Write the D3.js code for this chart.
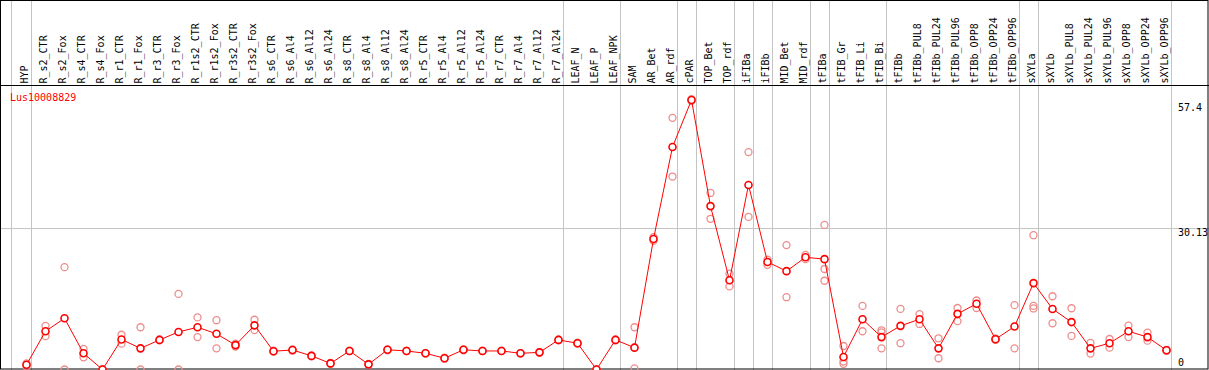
<!DOCTYPE html>
<html>
<head>
<meta charset="utf-8">
<script src="https://cdn.jsdelivr.net/npm/d3@7"></script>
<style>
  html, body { margin: 0; padding: 0; background: #fff; }
  svg { display: block; }
  text { font-family: "DejaVu Sans Mono", "Liberation Mono", monospace; font-size: 10px; }
</style>
</head>
<body>
<div id="chart"></div>
<script>
// 样本名（列）
const categories = [
  'HYP', 'R_s2_CTR', 'R_s2_Fox', 'R_s4_CTR', 'R_s4_Fox', 'R_r1_CTR', 'R_r1_Fox', 'R_r3_CTR', 'R_r3_Fox',
  'R_r1s2_CTR', 'R_r1s2_Fox', 'R_r3s2_CTR', 'R_r3s2_Fox', 'R_s6_CTR', 'R_s6_Al4', 'R_s6_Al12', 'R_s6_Al24',
  'R_s8_CTR', 'R_s8_Al4', 'R_s8_Al12', 'R_s8_Al24', 'R_r5_CTR', 'R_r5_Al4', 'R_r5_Al12', 'R_r5_Al24',
  'R_r7_CTR', 'R_r7_Al4', 'R_r7_Al12', 'R_r7_Al24', 'LEAF_N', 'LEAF_P', 'LEAF_NPK', 'SAM', 'AR_Bet', 'AR_rdf',
  'cPAR', 'TOP_Bet', 'TOP_rdf', 'iFIBa', 'iFIBb', 'MID_Bet', 'MID_rdf', 'tFIBa', 'tFIB_Gr', 'tFIB_Li', 'tFIB_Bi',
  'tFIBb', 'tFIBb_PUL8', 'tFIBb_PUL24', 'tFIBb_PUL96', 'tFIBb_OPP8', 'tFIBb_OPP24', 'tFIBb_OPP96',
  'sXYLa', 'sXYLb', 'sXYLb_PUL8', 'sXYLb_PUL24', 'sXYLb_PUL96', 'sXYLb_OPP8', 'sXYLb_OPP24', 'sXYLb_OPP96'
];

// 分组分隔线：画在这些列之后
const groupEnds = ['HYP', 'R_r7_Al24', 'LEAF_NPK', 'AR_rdf', 'cPAR', 'TOP_rdf', 'iFIBa', 'iFIBb',
  'MID_rdf', 'tFIBa', 'tFIB_Bi', 'tFIBb_OPP96', 'sXYLa', 'sXYLb_OPP96'];

const geneName = 'Lus10008829';

// 均值
const means = [
  1.0, 8.15, 10.9, 3.45, 0, 6.4, 4.5, 6.3, 8.0,
  9.0, 7.6, 5.2, 9.4, 3.9, 4.15, 2.9, 1.3,
  3.95, 1.1, 4.2, 3.95, 3.45, 2.4, 4.2, 3.95,
  3.95, 3.45, 3.65, 6.3, 5.6, 0, 6.3, 4.65, 27.8, 47.4,
  57.4, 34.8, 19.0, 39.3, 22.9, 20.95, 23.9, 23.5, 2.67, 10.7, 6.9,
  9.3, 10.7, 4.5, 11.85, 14.0, 6.45, 9.15,
  18.4, 12.9, 10.1, 4.5, 5.6, 8.15, 6.9, 4.1
];

// 重复样本
const repA = [
  1.3, 9.3, 21.8, 4.4, 0, 7.4, 9.0, 6.4, 16.1,
  11.1, 10.5, 5.5, 10.6, 4.0, 4.3, 3.0, 1.4,
  4.0, 1.2, 4.3, 4.0, 3.5, 2.5, 4.3, 4.0,
  4.0, 3.5, 3.7, 6.4, 5.7, 0, 6.4, 9.0, 28.2, 53.6,
  57.6, 37.6, 20.4, 46.3, 23.4, 26.5, 24.4, 30.8, 5.0, 13.55, 8.35,
  12.9, 11.8, 6.65, 13.1, 14.7, 6.6, 13.7,
  28.6, 15.6, 13.05, 5.65, 6.5, 9.35, 7.85, 4.2
];
const repB = [
  0.6, 7.1, 0, 2.6, 0, 5.5, 0, 6.2, 0,
  6.9, 4.5, 4.9, 8.4, 3.8, 4.0, 2.8, 1.2,
  3.9, 1.0, 4.1, 3.9, 3.4, 2.3, 4.1, 3.9,
  3.9, 3.4, 3.6, 6.2, 5.5, 0, 6.2, 0.25, 27.4, 41.1,
  57.2, 32.1, 17.7, 32.5, 22.3, 15.4, 23.5, 21.4, 1.7, 8.15, 4.5,
  5.6, 9.7, 2.4, 10.3, 13.1, 6.3, 4.5,
  13.55, 9.85, 7.15, 3.4, 4.65, 6.9, 6.15, 4.0
];
const repC = [
  null, null, null, null, null, null, null, null, null,
  null, null, null, null, null, null, null, null,
  null, null, null, null, null, null, null, null,
  null, null, null, null, null, null, null, 4.7, null, null,
  null, null, null, null, null, null, null, 18.9, 1.2, null, 7.9,
  null, null, null, null, null, null, null,
  13.0, null, null, null, null, null, null, null
];

// 纵轴刻度
const yTicks = [57.4, 30.13, 0];

const drawChart = (container) => {
  const dimensions = { width: 1209, height: 370, headerBottom: 85 };

  const svg = d3.select(container)
    .append('svg')
    .attr('width', dimensions.width)
    .attr('height', dimensions.height);

  const xScale = d3.scalePoint().domain(categories).range([26.5, 1166.5]);
  const yScale = d3.scaleLinear().domain([0, 57.4]).range([369.5, 100]);

  // 竖向分隔线
  const gridX = [xScale(categories[0]) - 15.5, ...groupEnds.map(c => xScale(c) + 4)];
  svg.append('g')
    .selectAll('line')
    .data(gridX)
    .join('line')
    .attr('x1', d => Math.round(d) + 0.5)
    .attr('x2', d => Math.round(d) + 0.5)
    .attr('y1', 0)
    .attr('y2', dimensions.height)
    .attr('stroke', '#c4c4c4');

  // 横向刻度线（只有中间那条）
  svg.append('g')
    .selectAll('line')
    .data(yTicks.filter(v => v !== 0 && v !== 57.4))
    .join('line')
    .attr('x1', 0)
    .attr('x2', dimensions.width)
    .attr('y1', d => Math.round(yScale(d)) + 0.5)
    .attr('y2', d => Math.round(yScale(d)) + 0.5)
    .attr('stroke', '#c4c4c4');

  // 刻度文字
  svg.append('g')
    .selectAll('text')
    .data(yTicks)
    .join('text')
    .attr('x', 1178)
    .attr('y', d => {
      if (d === 57.4) return yScale(d) + 11;
      if (d === 0) return yScale(d) - 4;
      return yScale(d) + 8;
    })
    .attr('fill', '#000')
    .text(d => d);

  // 表头与边框
  svg.append('line')
    .attr('x1', 0).attr('x2', dimensions.width)
    .attr('y1', dimensions.headerBottom + 0.5).attr('y2', dimensions.headerBottom + 0.5)
    .attr('stroke', '#000');
  svg.append('rect')
    .attr('x', 0.5).attr('y', 0.5)
    .attr('width', dimensions.width - 1.5).attr('height', dimensions.height - 1.5)
    .attr('fill', 'none')
    .attr('stroke', '#000');

  // 列名（竖排）
  svg.append('g')
    .selectAll('text')
    .data(categories)
    .join('text')
    .attr('transform', d => `translate(${xScale(d) + 1},83.5) rotate(-90)`)
    .attr('fill', '#000')
    .text(d => d);

  // 基因名
  svg.append('text')
    .attr('x', 10)
    .attr('y', 101)
    .attr('fill', 'red')
    .text(geneName);

  // 重复样本点
  const reps = [];
  [repA, repB, repC].forEach(arr => arr.forEach((v, i) => {
    if (v !== null) reps.push({ cat: categories[i], value: v });
  }));
  svg.append('g')
    .selectAll('circle')
    .data(reps)
    .join('circle')
    .attr('cx', d => xScale(d.cat))
    .attr('cy', d => yScale(d.value))
    .attr('r', 3.5)
    .attr('fill', 'none')
    .attr('stroke', '#ee8c8c')
    .attr('stroke-width', 1.3);

  // 均值折线
  const meanData = categories.map((c, i) => ({ cat: c, value: means[i] }));
  const line = d3.line()
    .x(d => xScale(d.cat))
    .y(d => yScale(d.value));
  svg.append('path')
    .datum(meanData)
    .attr('d', line)
    .attr('fill', 'none')
    .attr('stroke', 'red')
    .attr('stroke-width', 1);

  svg.append('g')
    .selectAll('circle')
    .data(meanData)
    .join('circle')
    .attr('cx', d => xScale(d.cat))
    .attr('cy', d => yScale(d.value))
    .attr('r', 3.5)
    .attr('fill', '#fff')
    .attr('stroke', 'red')
    .attr('stroke-width', 1.6);
};

drawChart(document.getElementById('chart'));
</script>
</body>
</html>
